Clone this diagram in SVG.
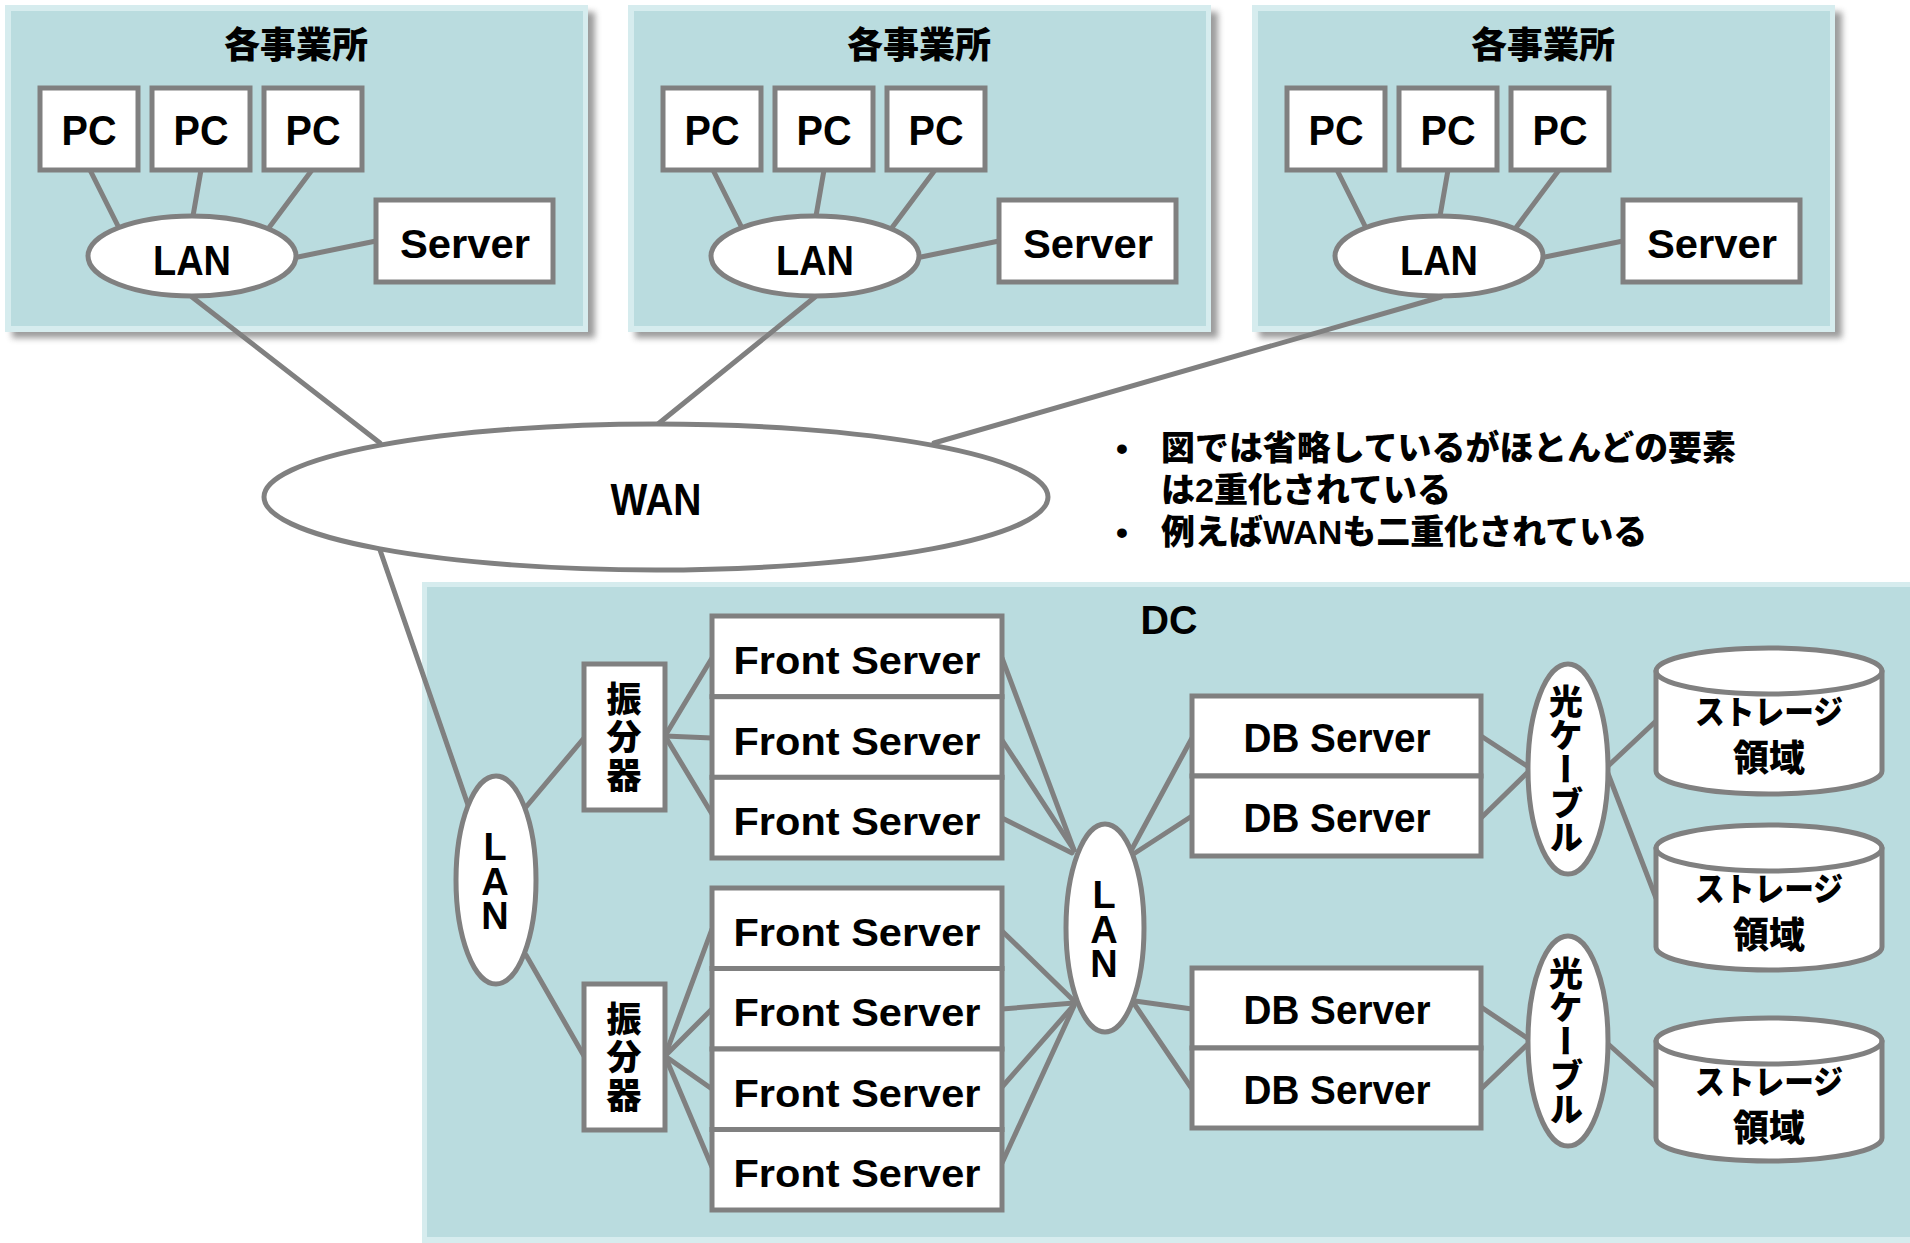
<svg xmlns="http://www.w3.org/2000/svg" width="1910" height="1243" viewBox="0 0 1910 1243">
  <defs>
    <filter id="soft" x="-5%" y="-5%" width="110%" height="110%">
      <feGaussianBlur stdDeviation="3"/>
    </filter>
    <g id="office-frame">
      <rect x="12" y="12" width="583" height="326" fill="#7a7a7a" opacity="0.75" filter="url(#soft)"/>
      <rect x="5" y="5" width="583" height="327" fill="#d6ecee"/>
      <rect x="11" y="11" width="572" height="315" fill="#badcdf"/>
    </g>
  </defs>
  <style>
    .box { fill: #ffffff; stroke: #808080; stroke-width: 5; }
    .wire { stroke: #808080; stroke-width: 5; fill: none; stroke-linecap: round; }
    .lat { font-family: "Liberation Sans", Arial, sans-serif; font-weight: bold; fill: #000; text-anchor: middle; }
    .cjk { font-family: "Noto Sans CJK JP", sans-serif; font-weight: 900; fill: #000; text-anchor: middle; }
    .note { font-family: "Liberation Sans", "Noto Sans CJK JP", sans-serif; font-weight: 900; fill: #000; font-size: 34px; }
    .vert { writing-mode: vertical-rl; text-orientation: upright; text-anchor: start; }
  </style>

  <rect x="0" y="0" width="1910" height="1243" fill="#ffffff"/>

  <!-- site containers -->
  <g id="office-1-area"><use href="#office-frame"/></g>
  <g id="office-2-area" transform="translate(623,0)"><use href="#office-frame"/></g>
  <g id="office-3-area" transform="translate(1247,0)"><use href="#office-frame"/></g>
  <g id="dc-area">
    <rect x="422" y="582" width="1500" height="670" fill="#d6ecee"/>
    <rect x="427" y="587" width="1490" height="650" fill="#badcdf"/>
    <text class="lat" x="1169" y="634" font-size="40" textLength="57" lengthAdjust="spacingAndGlyphs">DC</text>
  </g>

  <!-- connectors -->
  <g id="connectors" class="wire">
    <!-- office 1 -->
    <line x1="90" y1="170" x2="119" y2="228"/>
    <line x1="201" y1="170" x2="193" y2="216"/>
    <line x1="312" y1="170" x2="268" y2="229"/>
    <line x1="298" y1="257" x2="376" y2="241"/>
    <!-- office 2 -->
    <line x1="713" y1="170" x2="742" y2="228"/>
    <line x1="824" y1="170" x2="816" y2="216"/>
    <line x1="935" y1="170" x2="891" y2="229"/>
    <line x1="921" y1="257" x2="999" y2="241"/>
    <!-- office 3 -->
    <line x1="1337" y1="170" x2="1366" y2="228"/>
    <line x1="1448" y1="170" x2="1440" y2="216"/>
    <line x1="1559" y1="170" x2="1515" y2="229"/>
    <line x1="1545" y1="257" x2="1623" y2="241"/>
    <!-- office LANs to WAN -->
    <line x1="192" y1="297" x2="380" y2="443"/>
    <line x1="815" y1="297" x2="658" y2="424"/>
    <line x1="1441" y1="297" x2="934" y2="443"/>
    <!-- WAN to DC LAN -->
    <line x1="380" y1="550" x2="468" y2="805"/>
    <!-- DC LAN to load balancers -->
    <line x1="526" y1="807" x2="584" y2="738"/>
    <line x1="526" y1="955" x2="584" y2="1056"/>
    <!-- load balancer 1 to front servers -->
    <line x1="665" y1="736" x2="712" y2="658"/>
    <line x1="665" y1="736" x2="712" y2="738"/>
    <line x1="665" y1="736" x2="712" y2="814"/>
    <!-- load balancer 2 to front servers -->
    <line x1="665" y1="1056" x2="712" y2="929"/>
    <line x1="665" y1="1056" x2="712" y2="1009"/>
    <line x1="665" y1="1056" x2="712" y2="1089"/>
    <line x1="665" y1="1056" x2="712" y2="1167"/>
    <!-- front servers to back LAN -->
    <line x1="1002" y1="658" x2="1074" y2="850"/>
    <line x1="1002" y1="740" x2="1074" y2="850"/>
    <line x1="1002" y1="818" x2="1072" y2="853"/>
    <line x1="1002" y1="931" x2="1074" y2="1001"/>
    <line x1="1002" y1="1009" x2="1074" y2="1003"/>
    <line x1="1002" y1="1087" x2="1074" y2="1005"/>
    <line x1="1002" y1="1163" x2="1074" y2="1006"/>
    <!-- back LAN to DB servers -->
    <line x1="1132" y1="849" x2="1192" y2="738"/>
    <line x1="1135" y1="853" x2="1192" y2="816"/>
    <line x1="1135" y1="1001" x2="1192" y2="1009"/>
    <line x1="1135" y1="1005" x2="1192" y2="1089"/>
    <!-- DB servers to fibre links -->
    <line x1="1481" y1="736" x2="1530" y2="768"/>
    <line x1="1481" y1="818" x2="1530" y2="770"/>
    <line x1="1481" y1="1007" x2="1530" y2="1040"/>
    <line x1="1481" y1="1089" x2="1530" y2="1042"/>
    <!-- fibre links to storage -->
    <line x1="1607" y1="767" x2="1656" y2="721"/>
    <line x1="1607" y1="771" x2="1656" y2="898"/>
    <line x1="1607" y1="1043" x2="1656" y2="1087"/>
  </g>

  <!-- office 1 -->
  <g id="office-1">
    <text class="cjk" x="296" y="58" font-size="36">各事業所</text>
    <g id="office-1-pc-1"><rect class="box" x="40" y="88" width="98" height="82"/><text class="lat" x="89" y="145" font-size="42" textLength="55" lengthAdjust="spacingAndGlyphs">PC</text></g>
    <g id="office-1-pc-2"><rect class="box" x="152" y="88" width="98" height="82"/><text class="lat" x="201" y="145" font-size="42" textLength="55" lengthAdjust="spacingAndGlyphs">PC</text></g>
    <g id="office-1-pc-3"><rect class="box" x="264" y="88" width="98" height="82"/><text class="lat" x="313" y="145" font-size="42" textLength="55" lengthAdjust="spacingAndGlyphs">PC</text></g>
    <g id="office-1-server"><rect class="box" x="376" y="200" width="177" height="82"/><text class="lat" x="465" y="258" font-size="40" textLength="130" lengthAdjust="spacingAndGlyphs">Server</text></g>
    <g id="office-1-lan"><ellipse class="box" cx="192" cy="256" rx="104" ry="40"/><text class="lat" x="192" y="275" font-size="43" textLength="78" lengthAdjust="spacingAndGlyphs">LAN</text></g>
  </g>

  <!-- office 2 -->
  <g id="office-2" transform="translate(623,0)">
    <text class="cjk" x="296" y="58" font-size="36">各事業所</text>
    <g id="office-2-pc-1"><rect class="box" x="40" y="88" width="98" height="82"/><text class="lat" x="89" y="145" font-size="42" textLength="55" lengthAdjust="spacingAndGlyphs">PC</text></g>
    <g id="office-2-pc-2"><rect class="box" x="152" y="88" width="98" height="82"/><text class="lat" x="201" y="145" font-size="42" textLength="55" lengthAdjust="spacingAndGlyphs">PC</text></g>
    <g id="office-2-pc-3"><rect class="box" x="264" y="88" width="98" height="82"/><text class="lat" x="313" y="145" font-size="42" textLength="55" lengthAdjust="spacingAndGlyphs">PC</text></g>
    <g id="office-2-server"><rect class="box" x="376" y="200" width="177" height="82"/><text class="lat" x="465" y="258" font-size="40" textLength="130" lengthAdjust="spacingAndGlyphs">Server</text></g>
    <g id="office-2-lan"><ellipse class="box" cx="192" cy="256" rx="104" ry="40"/><text class="lat" x="192" y="275" font-size="43" textLength="78" lengthAdjust="spacingAndGlyphs">LAN</text></g>
  </g>

  <!-- office 3 -->
  <g id="office-3" transform="translate(1247,0)">
    <text class="cjk" x="296" y="58" font-size="36">各事業所</text>
    <g id="office-3-pc-1"><rect class="box" x="40" y="88" width="98" height="82"/><text class="lat" x="89" y="145" font-size="42" textLength="55" lengthAdjust="spacingAndGlyphs">PC</text></g>
    <g id="office-3-pc-2"><rect class="box" x="152" y="88" width="98" height="82"/><text class="lat" x="201" y="145" font-size="42" textLength="55" lengthAdjust="spacingAndGlyphs">PC</text></g>
    <g id="office-3-pc-3"><rect class="box" x="264" y="88" width="98" height="82"/><text class="lat" x="313" y="145" font-size="42" textLength="55" lengthAdjust="spacingAndGlyphs">PC</text></g>
    <g id="office-3-server"><rect class="box" x="376" y="200" width="177" height="82"/><text class="lat" x="465" y="258" font-size="40" textLength="130" lengthAdjust="spacingAndGlyphs">Server</text></g>
    <g id="office-3-lan"><ellipse class="box" cx="192" cy="256" rx="104" ry="40"/><text class="lat" x="192" y="275" font-size="43" textLength="78" lengthAdjust="spacingAndGlyphs">LAN</text></g>
  </g>

  <!-- WAN -->
  <g id="wan">
    <ellipse class="box" cx="656" cy="497" rx="392" ry="73"/>
    <text class="lat" x="656" y="515" font-size="44" textLength="91" lengthAdjust="spacingAndGlyphs">WAN</text>
  </g>

  <!-- notes -->
  <g id="notes">
    <text class="note" x="1116" y="460">•</text>
    <text class="note" x="1161" y="460" textLength="575" lengthAdjust="spacingAndGlyphs">図では省略しているがほとんどの要素</text>
    <text class="note" x="1161" y="502">は2重化されている</text>
    <text class="note" x="1116" y="544">•</text>
    <text class="note" x="1161" y="544">例えばWANも二重化されている</text>
  </g>

  <!-- DC front LAN -->
  <g id="dc-lan-front">
    <ellipse class="box" cx="496" cy="880" rx="40" ry="104"/>
    <text class="lat vert" x="495" y="826" font-size="38" letter-spacing="-7.5">LAN</text>
  </g>

  <!-- load balancers -->
  <g id="lb-1">
    <rect class="box" x="584" y="664" width="81" height="146"/>
    <text class="cjk vert" x="624" y="681" font-size="35" letter-spacing="3">振分器</text>
  </g>
  <g id="lb-2">
    <rect class="box" x="584" y="984" width="81" height="146"/>
    <text class="cjk vert" x="624" y="1001" font-size="35" letter-spacing="3">振分器</text>
  </g>

  <!-- front servers, group 1 -->
  <g id="front-1"><rect class="box" x="712" y="616" width="290" height="80.7"/><text class="lat" x="857" y="674" font-size="38" textLength="247" lengthAdjust="spacingAndGlyphs">Front Server</text></g>
  <g id="front-2"><rect class="box" x="712" y="696.7" width="290" height="80.7"/><text class="lat" x="857" y="755" font-size="38" textLength="247" lengthAdjust="spacingAndGlyphs">Front Server</text></g>
  <g id="front-3"><rect class="box" x="712" y="777.3" width="290" height="80.7"/><text class="lat" x="857" y="835" font-size="38" textLength="247" lengthAdjust="spacingAndGlyphs">Front Server</text></g>
  <!-- front servers, group 2 -->
  <g id="front-4"><rect class="box" x="712" y="888" width="290" height="80.5"/><text class="lat" x="857" y="946" font-size="38" textLength="247" lengthAdjust="spacingAndGlyphs">Front Server</text></g>
  <g id="front-5"><rect class="box" x="712" y="968.5" width="290" height="80.5"/><text class="lat" x="857" y="1026" font-size="38" textLength="247" lengthAdjust="spacingAndGlyphs">Front Server</text></g>
  <g id="front-6"><rect class="box" x="712" y="1049" width="290" height="80.5"/><text class="lat" x="857" y="1107" font-size="38" textLength="247" lengthAdjust="spacingAndGlyphs">Front Server</text></g>
  <g id="front-7"><rect class="box" x="712" y="1129.5" width="290" height="80.5"/><text class="lat" x="857" y="1187" font-size="38" textLength="247" lengthAdjust="spacingAndGlyphs">Front Server</text></g>

  <!-- DC back LAN -->
  <g id="dc-lan-back">
    <ellipse class="box" cx="1105" cy="928" rx="39" ry="104"/>
    <text class="lat vert" x="1104" y="874" font-size="38" letter-spacing="-7.5">LAN</text>
  </g>

  <!-- DB servers -->
  <g id="db-1"><rect class="box" x="1192" y="696" width="289" height="80"/><text class="lat" x="1337" y="752" font-size="40" textLength="187" lengthAdjust="spacingAndGlyphs">DB Server</text></g>
  <g id="db-2"><rect class="box" x="1192" y="776" width="289" height="80"/><text class="lat" x="1337" y="832" font-size="40" textLength="187" lengthAdjust="spacingAndGlyphs">DB Server</text></g>
  <g id="db-3"><rect class="box" x="1192" y="968" width="289" height="80"/><text class="lat" x="1337" y="1024" font-size="40" textLength="187" lengthAdjust="spacingAndGlyphs">DB Server</text></g>
  <g id="db-4"><rect class="box" x="1192" y="1048" width="289" height="80"/><text class="lat" x="1337" y="1104" font-size="40" textLength="187" lengthAdjust="spacingAndGlyphs">DB Server</text></g>

  <!-- fibre links -->
  <g id="fibre-1">
    <ellipse class="box" cx="1568" cy="769" rx="40" ry="105"/>
    <text class="cjk" x="1566" y="684" font-size="34" writing-mode="vertical-rl" style="text-anchor:start">光ケーブル</text>
  </g>
  <g id="fibre-2">
    <ellipse class="box" cx="1568" cy="1041" rx="40" ry="105"/>
    <text class="cjk" x="1566" y="956" font-size="34" writing-mode="vertical-rl" style="text-anchor:start">光ケーブル</text>
  </g>

  <!-- storage -->
  <g id="storage-1">
    <path class="box" d="M1656,671 A113,23 0 0,1 1882,671 V771 A113,23 0 0,1 1656,771 Z"/>
    <path class="wire" d="M1656,671 A113,23 0 0,0 1882,671"/>
    <text class="cjk" x="1769" y="724" font-size="33" textLength="148" lengthAdjust="spacingAndGlyphs">ストレージ</text>
    <text class="cjk" x="1769" y="771" font-size="36">領域</text>
  </g>
  <g id="storage-2">
    <path class="box" d="M1656,848 A113,23 0 0,1 1882,848 V947 A113,23 0 0,1 1656,947 Z"/>
    <path class="wire" d="M1656,848 A113,23 0 0,0 1882,848"/>
    <text class="cjk" x="1769" y="901" font-size="33" textLength="148" lengthAdjust="spacingAndGlyphs">ストレージ</text>
    <text class="cjk" x="1769" y="948" font-size="36">領域</text>
  </g>
  <g id="storage-3">
    <path class="box" d="M1656,1041 A113,23 0 0,1 1882,1041 V1138 A113,23 0 0,1 1656,1138 Z"/>
    <path class="wire" d="M1656,1041 A113,23 0 0,0 1882,1041"/>
    <text class="cjk" x="1769" y="1094" font-size="33" textLength="148" lengthAdjust="spacingAndGlyphs">ストレージ</text>
    <text class="cjk" x="1769" y="1141" font-size="36">領域</text>
  </g>
</svg>
